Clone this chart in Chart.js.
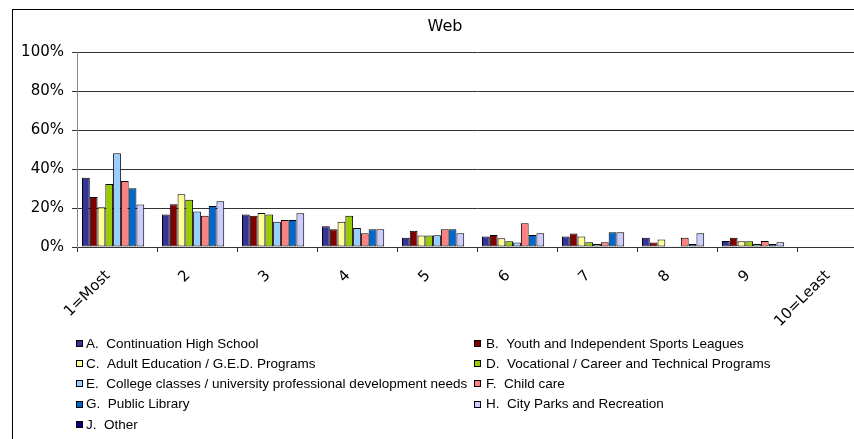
<!DOCTYPE html>
<html>
<head>
<meta charset="utf-8">
<script src="https://cdn.jsdelivr.net/npm/chart.js@4"></script>
<style>
  html, body { margin: 0; padding: 0; width: 854px; height: 439px; overflow: hidden; background: #fff; }
  #frame { position: absolute; left: 12px; top: 9px; width: 900px; height: 500px;
           border-left: 1px solid #000; border-top: 1px solid #000; }
  #wrap { position: absolute; left: 13px; top: 10px; width: 870px; height: 429px; }
</style>
</head>
<body>
<div id="frame"></div>
<div id="wrap"><canvas id="c" width="870" height="429"></canvas></div>
<script>
// Rank categories (1 = most important, 10 = least)
const rankLabels = ['1=Most', '2', '3', '4', '5', '6', '7', '8', '9', '10=Least'];

// Share of respondents (%) giving each rank, per service
const continuationHigh = [35.5, 16.7, 16.7, 10.7, 4.7, 5.4, 5.4, 4.7, 3.1, 0];
const youthSports      = [25.7, 22.0, 16.0,  9.1, 8.3, 6.2, 6.9, 2.3, 4.7, 0];
const adultEducation   = [20.4, 27.1, 17.5, 12.9, 5.9, 4.5, 5.4, 3.8, 3.0, 0];
const vocational       = [32.4, 24.2, 16.7, 16.0, 5.9, 3.0, 2.5, 0.4, 3.0, 0];
const collegeClasses   = [48.1, 18.2, 12.9,  9.8, 6.0, 2.3, 1.6, 0.4, 1.6, 0];
const childCare        = [33.9, 16.0, 13.9,  7.1, 9.1, 12.2, 2.5, 4.7, 3.1, 0];
const publicLibrary    = [30.2, 21.1, 13.9,  9.1, 9.1, 6.1, 7.6, 1.6, 1.6, 0];
const cityParks        = [21.8, 23.5, 17.3,  9.1, 7.1, 7.1, 7.6, 7.1, 2.5, 0];
const otherService     = [0, 0, 0, 0, 0, 0, 0, 0, 0, 0];

const seriesNames = [
  'A.  Continuation High School',
  'B.  Youth and Independent Sports Leagues',
  'C.  Adult Education / G.E.D. Programs',
  'D.  Vocational / Career and Technical Programs',
  'E.  College classes / university professional development needs',
  'F.  Child care',
  'G.  Public Library',
  'H.  City Parks and Recreation',
  'J.  Other'
];
const seriesValues = [continuationHigh, youthSports, adultEducation, vocational,
                      collegeClasses, childCare, publicLibrary, cityParks, otherService];
const seriesColors = ['#333399', '#800000', '#FFFF99', '#99CC00', '#99CCFF',
                      '#FF8080', '#0066CC', '#CCCCFF', '#000080'];

const yTicks = [0, 20, 40, 60, 80, 100];

// Two-column legend under the plot, filled row by row
const gridLegend = {
  id: 'gridLegend',
  afterDraw(chart, args, opts) {
    const ctx = chart.ctx;
    ctx.save();
    ctx.font = opts.font;
    ctx.textBaseline = 'middle';
    ctx.textAlign = 'left';
    chart.data.datasets.forEach((ds, i) => {
      const col = i % 2;
      const row = Math.floor(i / 2);
      const mx = opts.boxX[col];
      const cy = opts.y0 + row * opts.step;
      const top = Math.round(cy - 3.5);
      ctx.fillStyle = ds.backgroundColor;
      ctx.fillRect(mx, top, 7, 7);
      ctx.strokeStyle = '#000';
      ctx.lineWidth = 1;
      ctx.strokeRect(mx + 0.5, top + 0.5, 6, 6);
      ctx.fillStyle = '#000';
      ctx.fillText(ds.label, opts.textX[col], cy + 0.5);
    });
    ctx.restore();
  }
};

const axisFont = { family: 'DejaVu Sans', size: 15 };

new Chart(document.getElementById('c'), {
  type: 'bar',
  data: {
    labels: rankLabels,
    datasets: seriesNames.map((name, i) => ({
      label: name,
      data: seriesValues[i],
      backgroundColor: seriesColors[i],
      borderColor: '#000',
      borderWidth: 1,
      borderSkipped: false,
      categoryPercentage: 0.875,
      barPercentage: 1
    }))
  },
  options: {
    responsive: false,
    animation: false,
    layout: { padding: { left: 0, right: 6, top: 0, bottom: 112 } },
    plugins: {
      legend: { display: false },
      tooltip: { enabled: false },
      title: {
        display: true,
        text: 'Web',
        color: '#000',
        font: { family: 'DejaVu Sans', size: 16, weight: 'normal' },
        padding: { top: 7, bottom: 16 }
      },
      gridLegend: {
        font: '13.5px "Liberation Sans", Arial, sans-serif',
        boxX: [63, 461],
        textX: [73, 473],
        y0: 333.5,
        step: 20.2
      }
    },
    scales: {
      x: {
        offset: true,
        grid: { offset: true, drawOnChartArea: false, tickLength: 5, color: '#333' },
        border: { color: '#333' },
        ticks: {
          autoSkip: false, minRotation: 45, maxRotation: 45,
          padding: 15, labelOffset: -9, color: '#000', font: axisFont
        },
        afterFit(scale) { scale.height = 80; }
      },
      y: {
        min: 0,
        max: 100,
        afterBuildTicks(scale) { scale.ticks = yTicks.map(v => ({ value: v })); },
        ticks: { callback: v => v + '%', padding: 8, color: '#000', font: axisFont },
        grid: { color: '#333', tickLength: 5 },
        border: { color: '#888' },
        afterFit(scale) { scale.width = 64; }
      }
    }
  },
  plugins: [gridLegend]
});
</script>
</body>
</html>
